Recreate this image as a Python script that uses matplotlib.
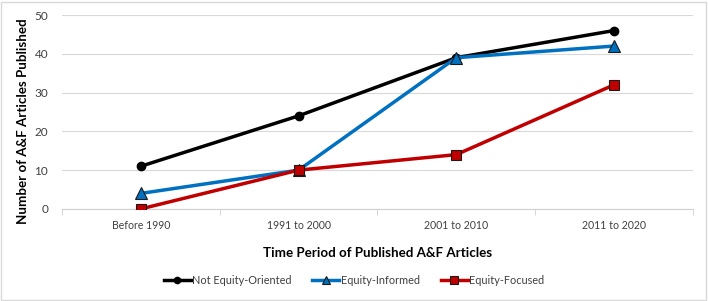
import matplotlib
matplotlib.use("Agg")
import matplotlib.pyplot as plt
from matplotlib.patches import Rectangle

categories = ["Before 1990", "1991 to 2000", "2001 to 2010", "2011 to 2020"]
not_equity = [11, 24, 39, 46]
equity_informed = [4, 10, 39, 42]
equity_focused = [0, 10, 14, 32]

plt.rcParams['font.family'] = ['Lato', 'DejaVu Sans']

fig = plt.figure(figsize=(7.08, 3.01), dpi=100)
ax = fig.add_axes([0.0876, 0.306, 0.891, 0.644])

x = list(range(len(categories)))
ax.plot(x, not_equity, color='black', lw=2.5, marker='o', ms=6,
        mfc='black', mec='black', label='Not Equity-Oriented', zorder=3)
ax.plot(x, equity_informed, color='#0070C0', lw=2.5, marker='^', ms=8,
        mfc='#0070C0', mec='#1a1a1a', mew=0.8, label='Equity-Informed', zorder=4)
ax.plot(x, equity_focused, color='#C00000', lw=2.5, marker='s', ms=7,
        mfc='#C00000', mec='#1a1a1a', mew=0.8, label='Equity-Focused', zorder=5)

ax.set_xlim(-0.5, 3.5)
ax.set_ylim(0, 50)
ax.set_yticks(range(0, 51, 10))
ax.set_xticks(x)
ax.set_xticklabels(categories)
ax.set_xticks([-0.5, 0.5, 1.5, 2.5, 3.5], minor=True)
ax.tick_params(axis='x', which='major', length=0, pad=8, labelsize=7.6, colors='#404040')
ax.tick_params(axis='x', which='minor', length=4, color='#d0d0d0', direction='out')
ax.tick_params(axis='y', length=0, labelsize=8.5, colors='#404040', pad=10)
ax.grid(axis='y', color='#d9d9d9', lw=0.8)
ax.set_axisbelow(True)
for s in ['top', 'right', 'left']:
    ax.spines[s].set_visible(False)
ax.spines['bottom'].set_color('#d0d0d0')
ax.spines['bottom'].set_linewidth(0.8)
ax.patch.set_alpha(0)

ax.set_xlabel('Time Period of Published A&F Articles', fontsize=9.6,
              fontweight='bold', labelpad=14, color='black')
ax.set_ylabel('Number of A&F Articles Published', fontsize=9.6,
              fontweight='bold', color='black')
ax.yaxis.set_label_coords(-0.052, 0.45)
ax.xaxis.set_label_coords(0.5, -0.195)

leg = fig.legend(loc='center', bbox_to_anchor=(0.5, 0.068), ncol=3, frameon=False,
                 fontsize=7.8, handlelength=2.5, columnspacing=1.9, handletextpad=0.15,
                 markerscale=0.75)
for t in leg.get_texts():
    t.set_color('#404040')

fig.patches.append(Rectangle((0.002, 0.004), 0.995, 0.99, transform=fig.transFigure,
                             fill=False, edgecolor='#d9d9d9', lw=1))

fig.savefig('out.png', dpi=100)
